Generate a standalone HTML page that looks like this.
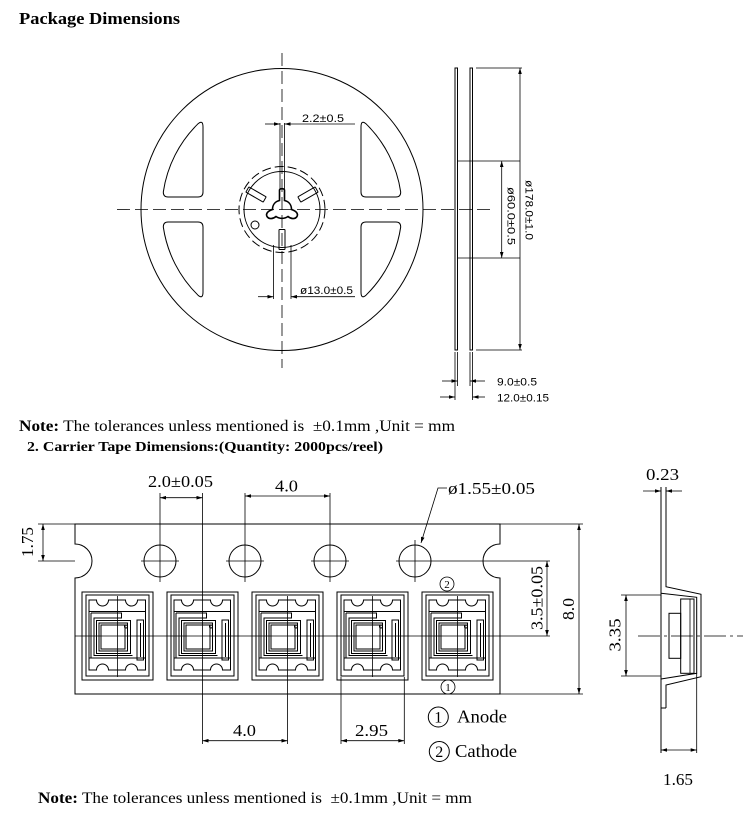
<!DOCTYPE html>
<html><head><meta charset="utf-8"><style>
html,body{margin:0;padding:0;background:#fff;}
svg{display:block;}
.s{fill:none;stroke:#000;stroke-width:1;}
.t{stroke-width:0.8;}
.sans{font-family:"Liberation Sans","DejaVu Sans",sans-serif;fill:#000;}
.ser{font-family:"Liberation Serif","DejaVu Serif",serif;fill:#000;}
</style></head><body>
<svg width="750" height="829" viewBox="0 0 750 829" xmlns="http://www.w3.org/2000/svg">
<defs>
<marker id="ar" viewBox="0 0 10 6" refX="10" refY="3" markerWidth="8" markerHeight="3.6" markerUnits="userSpaceOnUse" orient="auto-start-reverse"><path d="M0,0 L10,3 L0,6 z" fill="#000"/></marker>
<path id="win" d="M 203 192 Q 203 197 198 197 L 168 197 Q 163.3 197 163.3 192 A 120 120 0 0 1 198 123.8 Q 203 119.5 203 127 Z"/>
<rect id="slot" x="279" y="229.5" width="6" height="20" rx="0.6"/>
<g id="pk">
<rect x="-35.5" y="-44" width="71" height="88"/>
<rect x="-31.5" y="-41" width="63" height="81"/>
<path d="M-28.5 -36 L-21 -36 A6 6 0 0 0 -9 -36 L8 -36 A6 6 0 0 0 20 -36 L28 -36 L28 34 L20 34 A6 6 0 0 0 8 34 L-9 34 A6 6 0 0 0 -21 34 L-28.5 34 Z"/>
<path d="M-28.5 -24.5 H28"/>
<path d="M-28.5 22 H28"/>
<path d="M-26.5 -23 H4 V-18 H-23.5 V19.5 H15"/>
<path d="M-26.5 -23 V22"/>
<rect x="-21" y="-15.5" width="34" height="33"/>
<rect x="-18.5" y="-13" width="28.5" height="28"/>
<rect x="-16.5" y="-11" width="24" height="24"/>
<circle cx="8.5" cy="-9.5" r="1.5"/>
<rect x="19.5" y="-16" width="6.5" height="40"/>
<path d="M23 -13 V21"/>
</g>
</defs>

<!-- Title -->
<text x="19" y="24" class="ser" font-size="17" font-weight="bold" textLength="161" lengthAdjust="spacingAndGlyphs">Package Dimensions</text>

<!-- REEL -->
<g class="s">
<circle cx="282" cy="209.5" r="141"/>
<use href="#win"/>
<use href="#win" transform="translate(564,0) scale(-1,1)"/>
<use href="#win" transform="translate(0,419) scale(1,-1)"/>
<use href="#win" transform="translate(564,419) scale(-1,-1)"/>
<circle cx="282" cy="209.5" r="43" stroke-dasharray="9 4"/>
<circle cx="282" cy="209.5" r="38"/>
<use href="#slot"/>
<use href="#slot" transform="rotate(120 282 209.5)"/>
<use href="#slot" transform="rotate(-120 282 209.5)"/>
<circle cx="255" cy="225" r="4"/>
<path stroke-width="1.6" d="M279.5 190 L279.5 200.5 C275 201.5 272.5 205 272.5 209.5 C268 211 265.5 213.5 267 216.5 C269 219.5 273 219 276 216.5 C279.5 219 284.5 219 288 216.5 C291 219 295 219.5 297 216.5 C298.5 213.5 296 211 291.5 209.5 C291.5 205 289 201.5 284.5 200.5 L284.5 190 C284 188.3 280 188.3 279.5 190 Z"/>
<!-- centerlines -->
<path class="t" d="M282 53 V368" stroke-dasharray="13 5"/>
<path class="t" d="M117 209.5 H493" stroke-dasharray="13 5"/>
<!-- 2.2 dim -->
<path class="t" d="M280 123 V190 M284.5 123 V190"/>
<path class="t" d="M265 124 H280" marker-end="url(#ar)"/>
<path class="t" d="M355 124 H284.5" marker-end="url(#ar)"/>
<!-- 13.0 dim -->
<path class="t" d="M273.5 245 V299 M291 245 V299"/>
<path class="t" d="M258 296.7 H273.5" marker-end="url(#ar)"/>
<path class="t" d="M355 296.7 H291" marker-end="url(#ar)"/>
</g>
<text x="302" y="122" class="sans" font-size="11" textLength="42" lengthAdjust="spacingAndGlyphs">2.2±0.5</text>
<text x="300" y="294" class="sans" font-size="11" textLength="53" lengthAdjust="spacingAndGlyphs">ø13.0±0.5</text>

<!-- SIDE VIEW -->
<g class="s">
<rect x="455" y="68" width="2.5" height="282"/>
<rect x="470" y="68" width="2.5" height="282"/>
<path class="t" d="M457.5 161 H520 M457.5 258 H520 M476 68 H522 M476 350 H522"/>
<path class="t" d="M520 68 V350" marker-start="url(#ar)" marker-end="url(#ar)"/>
<path class="t" d="M501.7 161 V258" marker-start="url(#ar)" marker-end="url(#ar)"/>
<path class="t" d="M455 352 V400 M457.5 352 V386 M470 352 V386 M472.5 352 V400"/>
<path class="t" d="M442 381 H457.5" marker-end="url(#ar)"/>
<path class="t" d="M485 381 H470" marker-end="url(#ar)"/>
<path class="t" d="M440 397 H455" marker-end="url(#ar)"/>
<path class="t" d="M485 397 H472.5" marker-end="url(#ar)"/>
</g>
<text transform="translate(528.3,210) rotate(90)" text-anchor="middle" dominant-baseline="central" class="sans" font-size="11" textLength="60" lengthAdjust="spacingAndGlyphs">ø178.0±1.0</text>
<text transform="translate(510.5,216) rotate(90)" text-anchor="middle" dominant-baseline="central" class="sans" font-size="11" textLength="58" lengthAdjust="spacingAndGlyphs">ø60.0±0.5</text>
<text x="497" y="385.5" class="sans" font-size="11" textLength="40" lengthAdjust="spacingAndGlyphs">9.0±0.5</text>
<text x="497" y="401.5" class="sans" font-size="11" textLength="52" lengthAdjust="spacingAndGlyphs">12.0±0.15</text>

<!-- Notes -->
<text x="19" y="431" class="ser" font-size="16" textLength="436" lengthAdjust="spacingAndGlyphs"><tspan font-weight="bold">Note:</tspan> The tolerances unless mentioned is &#160;±0.1mm ,Unit = mm</text>
<text x="27" y="451" class="ser" font-size="13.5" font-weight="bold" textLength="356" lengthAdjust="spacingAndGlyphs">2. Carrier Tape Dimensions:(Quantity: 2000pcs/reel)</text>

<!-- TAPE -->
<g class="s">
<path d="M75 524 L500 524 L500 544 A17 17 0 0 0 500 578 L500 694 L75 694 L75 578 A17 17 0 0 0 75 544 Z"/>
<circle cx="160" cy="561" r="16"/>
<circle cx="245" cy="561" r="16"/>
<circle cx="330" cy="561" r="16"/>
<circle cx="415" cy="561" r="16"/>
<g class="t">
<path d="M141 561 H179 M226 561 H264 M311 561 H349 M396 561 H550"/>
<path d="M160 493 V582 M245 493 V582 M330 493 V582 M415 540 V582"/>
</g>
<use href="#pk" transform="translate(117.5,636)"/>
<use href="#pk" transform="translate(202.5,636)"/>
<use href="#pk" transform="translate(287.5,636)"/>
<use href="#pk" transform="translate(372.5,636)"/>
<use href="#pk" transform="translate(457.5,636)"/>
<g class="t">
<path d="M75 636 H550"/>
<path d="M117.5 596 V677 M202.5 493 V744 M287.5 596 V744 M372.5 596 V677 M457.5 596 V677"/>
<path d="M341 677 V744 M404.3 677 V744"/>
<path d="M500 524 H583 M500 694 H583"/>
<path d="M38 524 H75 M38 561 H75"/>
<!-- dims -->
<path d="M43 524 V561" marker-start="url(#ar)" marker-end="url(#ar)"/>
<path d="M160 497.7 H202.5" marker-start="url(#ar)" marker-end="url(#ar)"/>
<path d="M245 496 H330" marker-start="url(#ar)" marker-end="url(#ar)"/>
<path d="M579 524 V694" marker-start="url(#ar)" marker-end="url(#ar)"/>
<path d="M547 561 V636" marker-start="url(#ar)" marker-end="url(#ar)"/>
<path d="M202.5 740.7 H287.5" marker-start="url(#ar)" marker-end="url(#ar)"/>
<path d="M341 740.7 H404.3" marker-start="url(#ar)" marker-end="url(#ar)"/>
<path d="M447 488 H438 L421 543" marker-end="url(#ar)"/>
</g>
<circle cx="447" cy="584" r="7" class="t"/>
<circle cx="448" cy="687" r="7" class="t"/>
<circle cx="438.3" cy="717" r="10"/>
<circle cx="439.3" cy="751.5" r="10"/>
</g>
<text x="447" y="588" text-anchor="middle" class="ser" font-size="11">2</text>
<text x="448" y="691" text-anchor="middle" class="ser" font-size="11">1</text>
<text x="438.3" y="722.5" text-anchor="middle" class="ser" font-size="16">1</text>
<text x="439.3" y="757" text-anchor="middle" class="ser" font-size="16">2</text>
<text x="457" y="722.5" class="ser" font-size="18" textLength="50" lengthAdjust="spacingAndGlyphs">Anode</text>
<text x="455" y="757" class="ser" font-size="18" textLength="62" lengthAdjust="spacingAndGlyphs">Cathode</text>

<text x="148" y="487" class="ser" font-size="17" textLength="65" lengthAdjust="spacingAndGlyphs">2.0±0.05</text>
<text x="275" y="491.5" class="ser" font-size="17" textLength="23" lengthAdjust="spacingAndGlyphs">4.0</text>
<text x="448" y="494" class="ser" font-size="17" textLength="87" lengthAdjust="spacingAndGlyphs">ø1.55±0.05</text>
<text transform="translate(27.5,542) rotate(-90)" text-anchor="middle" dominant-baseline="central" class="ser" font-size="17" textLength="30" lengthAdjust="spacingAndGlyphs">1.75</text>
<text transform="translate(537,598) rotate(-90)" text-anchor="middle" dominant-baseline="central" class="ser" font-size="17" textLength="64" lengthAdjust="spacingAndGlyphs">3.5±0.05</text>
<text transform="translate(568.5,609) rotate(-90)" text-anchor="middle" dominant-baseline="central" class="ser" font-size="17" textLength="22" lengthAdjust="spacingAndGlyphs">8.0</text>
<text x="233" y="736" class="ser" font-size="17" textLength="23" lengthAdjust="spacingAndGlyphs">4.0</text>
<text x="355" y="736" class="ser" font-size="17" textLength="33" lengthAdjust="spacingAndGlyphs">2.95</text>

<!-- RIGHT PROFILE -->
<g class="s">
<path d="M661 487 V753"/>
<path d="M666 487 V586.7 L701 594.3 V676.7 L666 685 V708"/>
<path d="M661 708 H666"/>
<path d="M661 593.3 L696.7 597.3 V673.3 L661 679"/>
<rect x="680.7" y="599" width="13.3" height="74.3"/>
<path class="t" d="M690 599 V673.3"/>
<rect x="669" y="613.3" width="11.7" height="45"/>
<path class="t" d="M638 636 H743" stroke-dasharray="22 4 3 4"/>
<path class="t" d="M696.7 673.3 V753"/>
<path class="t" d="M621 595 H661 M621 676 H661"/>
<path class="t" d="M626 595 V676" marker-start="url(#ar)" marker-end="url(#ar)"/>
<path class="t" d="M661 750 H696.7" marker-start="url(#ar)" marker-end="url(#ar)"/>
<path class="t" d="M643 491 H661" marker-end="url(#ar)"/>
<path class="t" d="M682 491 H666" marker-end="url(#ar)"/>
</g>
<text x="646" y="480" class="ser" font-size="17" textLength="33" lengthAdjust="spacingAndGlyphs">0.23</text>
<text transform="translate(615,635) rotate(-90)" text-anchor="middle" dominant-baseline="central" class="ser" font-size="17" textLength="33" lengthAdjust="spacingAndGlyphs">3.35</text>
<text x="663" y="785" class="ser" font-size="17" textLength="30" lengthAdjust="spacingAndGlyphs">1.65</text>

<text x="38" y="803" class="ser" font-size="16" textLength="434" lengthAdjust="spacingAndGlyphs"><tspan font-weight="bold">Note:</tspan> The tolerances unless mentioned is &#160;±0.1mm ,Unit = mm</text>
</svg>
</body></html>
